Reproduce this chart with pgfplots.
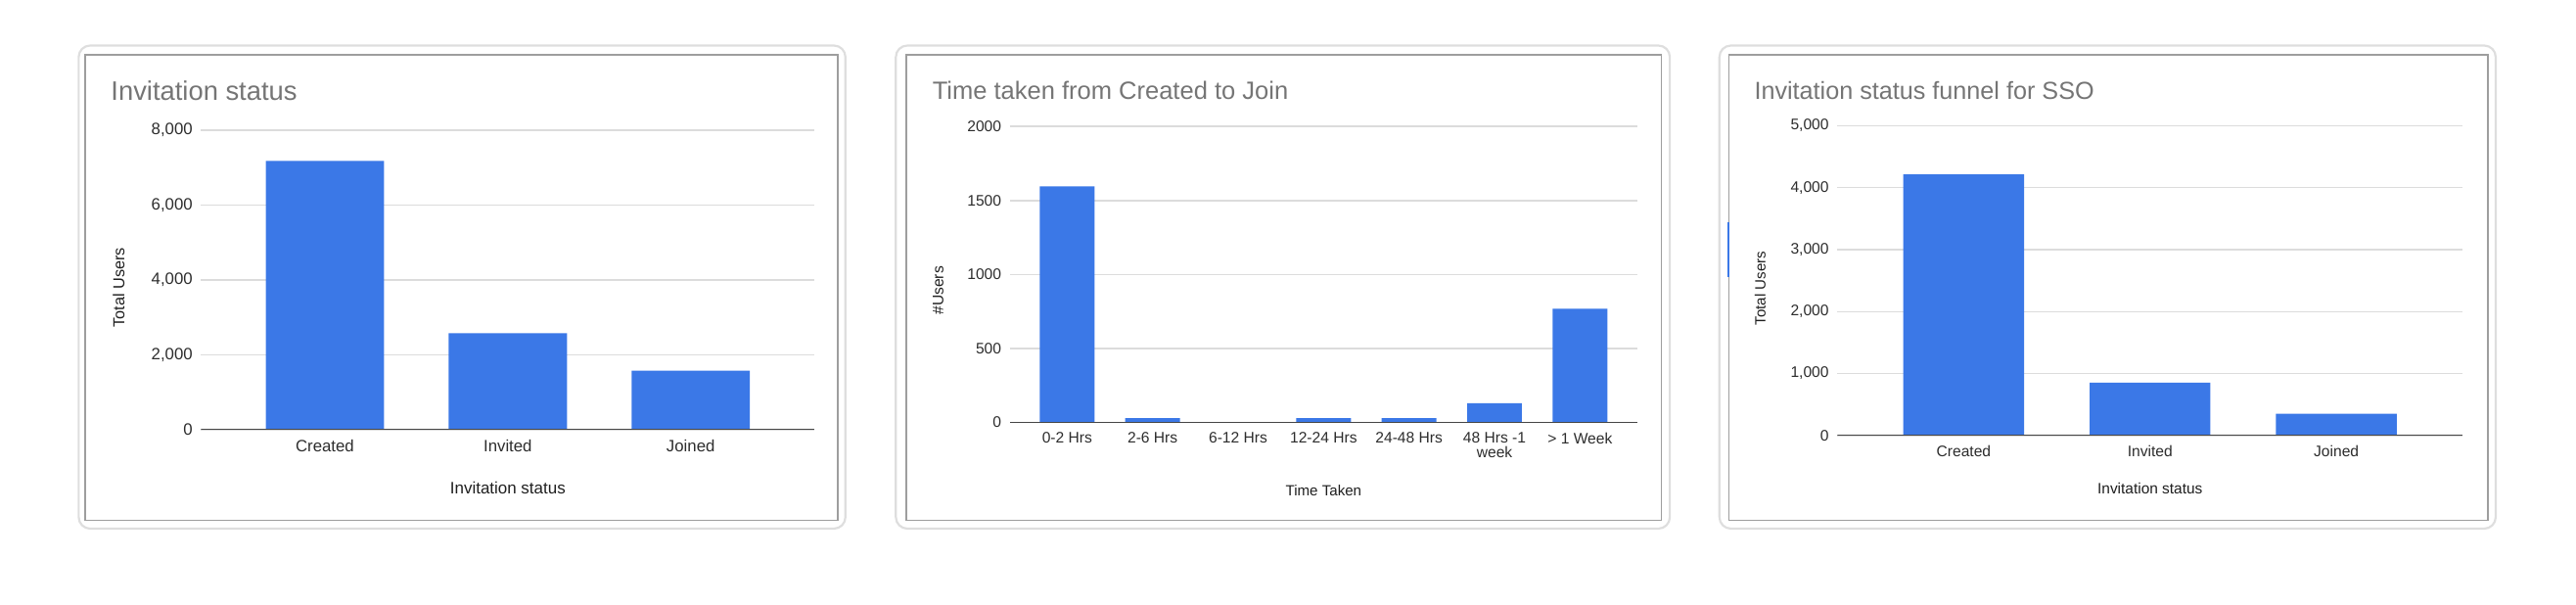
\documentclass[border=0pt]{standalone}
\usepackage{fontspec}
\setmainfont{Liberation Sans}
\usepackage{pgfplots}
\pgfplotsset{compat=1.18}
\definecolor{barblue}{RGB}{59,120,231}
\definecolor{gridgray}{RGB}{220,220,220}
\definecolor{basegray}{RGB}{70,70,70}
\definecolor{titlegray}{RGB}{117,117,117}
\definecolor{tickgray}{RGB}{45,45,45}
\definecolor{cardgray}{RGB}{222,222,222}
\definecolor{innergray}{RGB}{158,158,158}

\pgfplotsset{
 sheetbar/.style={
  scale only axis, anchor=south west,
  ybar, enlargelimits=false, ymin=0,
  axis line style={draw=none},
  major tick length=0pt, tick style={draw=none},
  ymajorgrids, grid style={gridgray, line width=0.9pt},
  xtick=data, scaled y ticks=false,
  /pgf/number format/assume math mode=true,
  yticklabel style={anchor=east, inner sep=0pt, xshift=-5pt, text=tickgray},
  xticklabel style={anchor=north, inner sep=0pt, yshift=-6pt, text=tickgray, align=center},
  every axis y label/.style={rotate=90, anchor=center, text=black!88},
  every axis x label/.style={anchor=base, text=black!88},
 }
}

\begin{document}
\begin{tikzpicture}[x=1pt,y=1pt]
\useasboundingbox (0,0) rectangle (1568,368);
% cards
\draw[cardgray, line width=1.3pt, rounded corners=7pt] (47.9,340.3) rectangle (514.6,46.3);
\draw[innergray, line width=1.1pt] (52,334.7) rectangle (510,51.4);
\draw[cardgray, line width=1.3pt, rounded corners=7pt] (545.3,340.3) rectangle (1016.4,46.3);
\draw[innergray, line width=1.1pt] (551.5,334.7) rectangle (1011.3,51.4);
\draw[cardgray, line width=1.3pt, rounded corners=7pt] (1046.6,340.3) rectangle (1519.1,46.3);
\draw[innergray, line width=1.1pt] (1052.4,334.7) rectangle (1514.3,51.4);
\draw[barblue, line width=1.5pt] (1052,232.5) -- (1052,199.4);
% titles
\node[anchor=base west, inner sep=0pt, text=titlegray, font=\fontsize{16.3}{19}\selectfont] at (67.4,306.8) {Invitation status};
\node[anchor=base west, inner sep=0pt, text=titlegray, font=\fontsize{15.2}{18}\selectfont] at (567.4,307.4) {Time taken from Created to Join};
\node[anchor=base west, inner sep=0pt, text=titlegray, font=\fontsize{15.0}{18}\selectfont] at (1067.7,307.4) {Invitation status funnel for SSO};

% Panel 1
\begin{axis}[sheetbar, at={(122.4pt,106.5pt)}, width=373.4pt, height=182.3pt,
  bar width=72pt, xmin=-0.677, xmax=2.677, ymax=8000, ytick={0,2000,4000,6000,8000},
  xticklabels={Created,Invited,Joined},
  tick label style={font=\fontsize{10}{12}\selectfont},
  yticklabel style={/pgf/number format/1000 sep={,}},
  ylabel={Total Users}, ylabel style={at={(axis description cs:-0.1344,0.475)}, font=\fontsize{9.7}{11}\selectfont},
  xlabel={Invitation status}, xlabel style={at={(axis description cs:0.5,0)}, yshift=-39.3pt, font=\fontsize{10.1}{12}\selectfont}]
\addplot[fill=barblue, draw=none] coordinates {(0,7180) (1,2580) (2,1575)};
\draw[basegray, line width=1.1pt] (rel axis cs:0,0) -- (rel axis cs:1,0);
\end{axis}

% Panel 2
\begin{axis}[sheetbar, at={(614.7pt,110.9pt)}, width=381.9pt, height=180.1pt,
  bar width=33.3pt, xmin=-0.67, xmax=6.67, ymax=2000, ytick={0,500,1000,1500,2000},
  xticklabels={0-2 Hrs,2-6 Hrs,6-12 Hrs,12-24 Hrs,24-48 Hrs,{48 Hrs -1\\week},> 1 Week},
  tick label style={font=\fontsize{9.3}{8.6}\selectfont},
  yticklabel style={/pgf/number format/1000 sep={}},
  ylabel={\#Users}, ylabel style={at={(axis description cs:-0.1144,0.446)}, font=\fontsize{9.3}{11}\selectfont},
  xlabel={Time Taken}, xlabel style={at={(axis description cs:0.5,0)}, yshift=-44.6pt, font=\fontsize{9}{11}\selectfont}]
\addplot[fill=barblue, draw=none] coordinates {(0,1595) (1,30) (2,0) (3,30) (4,30) (5,130) (6,768)};
\draw[basegray, line width=1.1pt] (rel axis cs:0,0) -- (rel axis cs:1,0);
\end{axis}

% Panel 3
\begin{axis}[sheetbar, at={(1118.4pt,103pt)}, width=380.6pt, height=188.5pt,
  bar width=73.5pt, xmin=-0.678, xmax=2.678, ymax=5000, ytick={0,1000,2000,3000,4000,5000},
  xticklabels={Created,Invited,Joined},
  tick label style={font=\fontsize{9.3}{11}\selectfont},
  yticklabel style={/pgf/number format/1000 sep={,}},
  ylabel={Total Users}, ylabel style={at={(axis description cs:-0.1235,0.475)}, font=\fontsize{9.0}{11}\selectfont},
  xlabel={Invitation status}, xlabel style={at={(axis description cs:0.5,0)}, yshift=-35.5pt, font=\fontsize{9.2}{11}\selectfont}]
\addplot[fill=barblue, draw=none] coordinates {(0,4215) (1,853) (2,350)};
\draw[basegray, line width=1.1pt] (rel axis cs:0,0) -- (rel axis cs:1,0);
\end{axis}
\end{tikzpicture}
\end{document}
